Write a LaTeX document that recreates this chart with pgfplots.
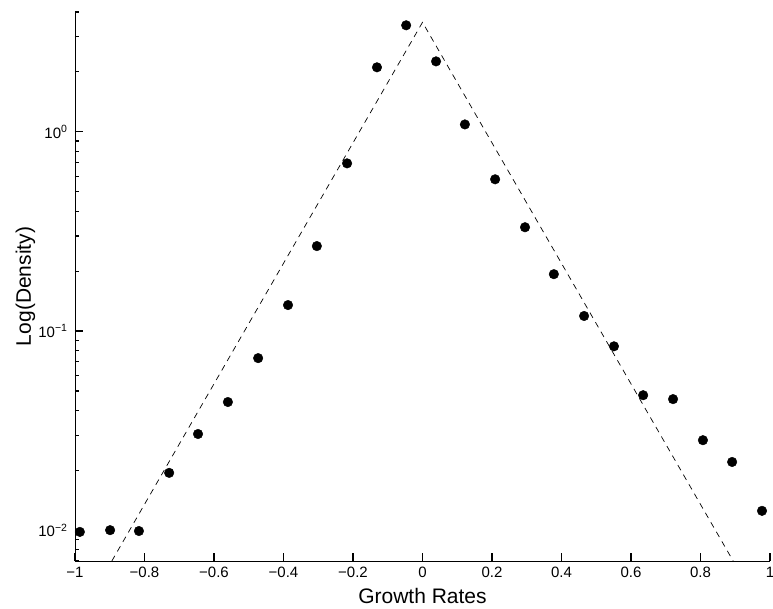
\documentclass[border=0pt]{standalone}
\usepackage{fontspec}
\setmainfont{Liberation Sans}
\usepackage{pgfplots}
\pgfplotsset{compat=1.18}
\begin{document}
\begin{tikzpicture}
\useasboundingbox (-75bp,-48bp) rectangle (698bp,561bp);
\begin{axis}[at={(0,0)}, anchor=south west, scale only axis,
  width=695bp, height=549bp,
  ymode=log, xmin=-1, xmax=1, ymin=0.007, ymax=4,
  axis x line*=bottom, axis y line*=left,
  xtick align=inside, ytick align=inside,
  xtick={-1,-0.8,-0.6,-0.4,-0.2,0,0.2,0.4,0.6,0.8,1},
  xticklabels={−1,−0.8,−0.6,−0.4,−0.2,0,0.2,0.4,0.6,0.8,1},
  yticklabel={\pgfmathtruncatemacro\myexp{round(\tick/ln(10))}10\textsuperscript{\ifnum\myexp<0 −\the\numexpr-\myexp\relax\else\myexp\fi}},
  major tick length=8bp, minor tick length=4.5bp,
  tick style={black, line width=1.1bp},
  minor tick style={black, line width=1.1bp},
  axis line style={black, line width=0.9bp},
  ticklabel style={font=\fontsize{15bp}{18bp}\selectfont},
  xticklabel style={anchor=base, yshift=-16bp},
  yticklabel style={xshift=-4bp},
  xlabel={Growth Rates},
  xlabel style={font=\fontsize{21bp}{24bp}\selectfont, at={(axis description cs:0.5,0)}, anchor=base, yshift=-42bp},
  clip=false]
\addplot[only marks, mark=*, mark size=4.8bp, black] coordinates {
(-0.986,0.0098) (-0.899,0.0100) (-0.816,0.0099) (-0.729,0.0194) (-0.646,0.0304)
(-0.560,0.0440) (-0.473,0.0731) (-0.387,0.135) (-0.304,0.267) (-0.217,0.695)
(-0.131,2.11) (-0.047,3.43) (0.039,2.26) (0.122,1.09) (0.209,0.578)
(0.295,0.332) (0.378,0.193) (0.465,0.119) (0.551,0.0838) (0.635,0.0476)
(0.721,0.0455) (0.807,0.0283) (0.891,0.0220) (0.977,0.0125)};
\addplot[black, dash pattern=on 6bp off 5bp, line width=0.7bp] coordinates {(-0.894,0.007) (0,3.55) (0.894,0.007)};
\end{axis}
\node[rotate=90, anchor=base, font=\fontsize{21bp}{24bp}\selectfont] at (-44bp,274.5bp) {Log(Density)};
\end{tikzpicture}
\end{document}
